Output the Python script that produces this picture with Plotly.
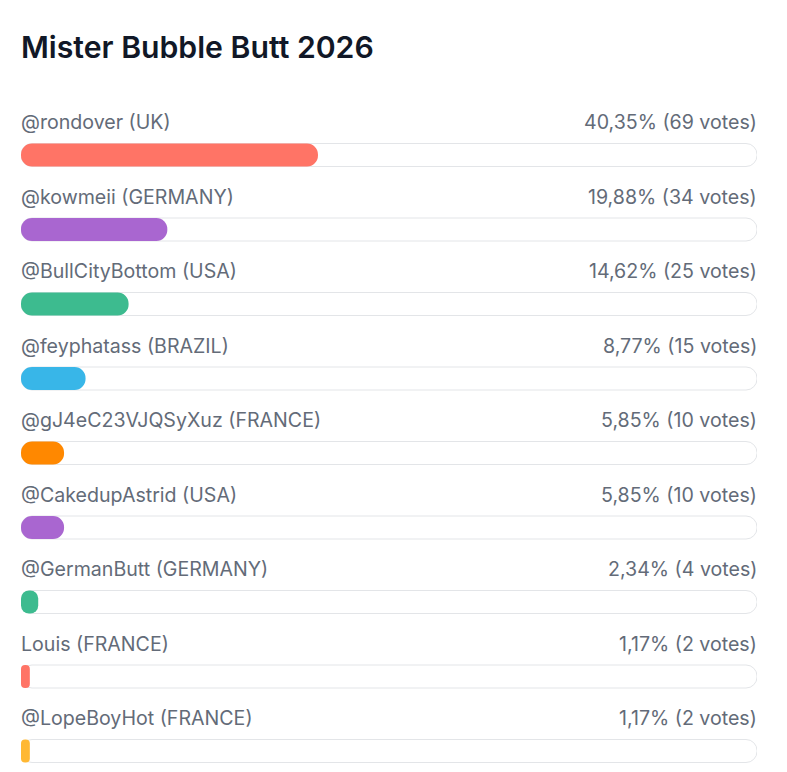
import plotly.graph_objects as go

title = "Mister Bubble Butt 2026"
names = ["@rondover (UK)", "@kowmeii (GERMANY)", "@BullCityBottom (USA)", "@feyphatass (BRAZIL)",
         "@gJ4eC23VJQSyXuz (FRANCE)", "@CakedupAstrid (USA)", "@GermanButt (GERMANY)",
         "Louis (FRANCE)", "@LopeBoyHot (FRANCE)"]
percents = [40.35, 19.88, 14.62, 8.77, 5.85, 5.85, 2.34, 1.17, 1.17]
pct_labels = ["40,35%", "19,88%", "14,62%", "8,77%", "5,85%", "5,85%", "2,34%", "1,17%", "1,17%"]
votes = [69, 34, 25, 15, 10, 10, 4, 2, 2]
colors = ["#FF7466", "#A966D0", "#3DBB8F", "#38B6E8", "#FF8800", "#A966D0", "#3DBB8F", "#FF7466", "#FFB833"]

OFF = 8  # page body margin
W, H = 787 - 2 * OFF, 772 - 2 * OFF
x0, x1 = 21 - OFF, 757 - OFF
row_h = 74.5
bar_c0 = 155 - OFF
bar_px = 23

ys = list(range(len(names)))
min_w = 1.2  # minimal visible width (percent of track)
disp = [max(p, min_w) for p in percents]

fig = go.Figure()
fig.add_trace(go.Bar(
    x=[100] * len(names), y=ys, orientation="h", base=0,
    marker=dict(color="white", line=dict(color="#E3E5E8", width=1), cornerradius=11),
    width=bar_px / row_h, hoverinfo="skip", showlegend=False,
))
fig.add_trace(go.Bar(
    x=disp, y=ys, orientation="h", base=0,
    marker=dict(color=colors, line=dict(width=0), cornerradius=11),
    width=bar_px / row_h, showlegend=False,
    customdata=votes, hovertemplate="%{customdata} votes<extra></extra>",
))

label_off = -33 / row_h
lab_font = dict(family="Inter", size=19.6, color="#636B78")
for i, n in enumerate(names):
    fig.add_annotation(x=0, xref="x", y=i + label_off, yref="y", text=n, showarrow=False,
                       xanchor="left", yanchor="middle", xshift=-2, font=lab_font)
    fig.add_annotation(x=100, xref="x", y=i + label_off, yref="y",
                       text=f"{pct_labels[i]} ({votes[i]} votes)", showarrow=False,
                       xanchor="right", yanchor="middle", xshift=2, font=lab_font)

fig.add_annotation(x=x0 / W, xref="paper", y=1 - (47 - OFF) / H, yref="paper", text=title,
                   showarrow=False, xanchor="left", yanchor="middle", xshift=-2,
                   font=dict(family="Inter", size=30.2, color="#111827", weight=600))

top = -bar_c0 / row_h
bottom = (H - bar_c0) / row_h
fig.update_layout(
    width=W, height=H, margin=dict(l=0, r=0, t=0, b=0),
    paper_bgcolor="white", plot_bgcolor="white",
    barmode="overlay",
    xaxis=dict(domain=[x0 / W, x1 / W], range=[0, 100], visible=False, fixedrange=True),
    yaxis=dict(range=[bottom, top], visible=False, fixedrange=True),
)
fig.write_html("out.html")
